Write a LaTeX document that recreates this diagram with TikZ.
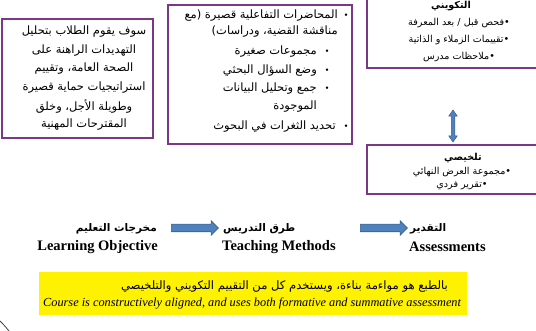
\documentclass[tikz,border=0pt]{standalone}
\usepackage{fontspec}
\setmainfont{Liberation Serif}
\newfontfamily\arabicfont[Script=Arabic]{DejaVu Sans}
\usetikzlibrary{shapes.arrows}
\TeXXeTstate=1
\newcommand{\AR}[1]{{\arabicfont\beginR #1\endR}}
\definecolor{boxpurple}{RGB}{125,55,135}
\definecolor{arrowblue}{RGB}{79,129,189}
\definecolor{arrowdark}{RGB}{56,93,138}
\tikzset{
  boxline/.style={draw=boxpurple, line width=1.3pt},
  artxt/.style={inner sep=0pt, font=\arabicfont\fontsize{11.5}{13}\selectfont},
  smtxt/.style={inner sep=0pt, font=\arabicfont\fontsize{9.6}{11}\selectfont},
  smbold/.style={inner sep=0pt, font=\arabicfont\bfseries\fontsize{9.6}{11}\selectfont},
  arlabel/.style={inner sep=0pt, font=\arabicfont\bfseries\fontsize{10.5}{12}\selectfont},
  enlabel/.style={inner sep=0pt, font=\bfseries\fontsize{14.5}{16}\selectfont},
  bul/.style={inner sep=0pt, font=\fontsize{10}{12}\selectfont},
  harrow/.style={single arrow, fill=arrowblue, draw=arrowdark, line width=0.6pt,
    inner xsep=0pt, inner ysep=3.5pt, minimum height=47pt,
    single arrow head extend=3.5pt, single arrow head indent=0pt},
  varrow/.style={double arrow, fill=arrowblue, draw=arrowdark, line width=0.5pt,
    inner xsep=0pt, inner ysep=1.5pt, minimum height=32pt,
    double arrow head extend=2.5pt, double arrow tip angle=70, rotate=90}
}
\begin{document}
\begin{tikzpicture}[x=1pt,y=-1pt]
\useasboundingbox (0,0) rectangle (536,331);
\clip (0,0) rectangle (536,331);

% left box: learning objective
\draw[boxline] (2,19) rectangle (153,138);
\node[artxt] (l1) at (84,32)    {\AR{سوف يقوم الطلاب بتحليل}};
\node[artxt] (l2) at (84,50.5)  {\AR{التهديدات الراهنة على}};
\node[artxt] (l3) at (84,69)    {\AR{الصحة العامة، وتقييم}};
\node[artxt] (l4) at (84,87.5)  {\AR{استراتيجيات حماية قصيرة}};
\node[artxt] (l5) at (84,106)   {\AR{وطويلة الأجل، وخلق}};
\node[artxt] (l6) at (84,124.5) {\AR{المقترحات المهنية}};

% middle box: teaching methods
\draw[boxline] (168,5) rectangle (352,144);
\node[bul] (b1) at (346,16) {•};
\node[artxt, anchor=east] (m1) at (338,16)  {\AR{المحاضرات التفاعلية قصيرة (مع}};
\node[artxt, anchor=east] (m2) at (338,32)  {\AR{مناقشة القضية، ودراسات)}};
\node[bul] (b3) at (327,52) {•};
\node[artxt, anchor=east] (m3) at (317,52)  {\AR{مجموعات صغيرة}};
\node[bul] (b4) at (327,71) {•};
\node[artxt, anchor=east] (m4) at (317,71)  {\AR{وضع السؤال البحثي}};
\node[bul] (b5) at (327,89) {•};
\node[artxt, anchor=east] (m5) at (317,89)  {\AR{جمع وتحليل البيانات}};
\node[artxt, anchor=east] (m6) at (317,107) {\AR{الموجودة}};
\node[bul] (b7) at (346,127) {•};
\node[artxt, anchor=east] (m7) at (336,127) {\AR{تحديد الثغرات في البحوث}};

% top right box: formative
\draw[boxline] (367,-10) rectangle (545,68);
\node[smbold] (f0) at (451,6)  {\AR{التكويني}};
\node[smtxt]  (f1) at (459,23) {\AR{•فحص قبل / بعد المعرفة}};
\node[smtxt]  (f2) at (459,40) {\AR{•تقييمات الزملاء و الذاتية}};
\node[smtxt]  (f3) at (459,57) {\AR{•ملاحظات مدرس}};

% double arrow
\node[varrow] (va) at (453,126) {};

% bottom right box: summative
\draw[boxline] (367,145) rectangle (545,194);
\node[smbold] (s0) at (463,158) {\AR{تلخيصي}};
\node[smtxt]  (s1) at (462,172) {\AR{•مجموعة العرض النهائي}};
\node[smtxt]  (s2) at (462,186) {\AR{•تقرير فردي}};

% bottom labels
\node[arlabel, anchor=east] (lo-ar) at (157,229) {\AR{مخرجات التعليم}};
\node[enlabel, anchor=east] (lo-en) at (158,247) {Learning Objective};
\node[arlabel, anchor=west] (tm-ar) at (223,229) {\AR{طرق التدريس}};
\node[enlabel, anchor=west] (tm-en) at (222,247) {Teaching Methods};
\node[arlabel, anchor=west] (as-ar) at (410,229) {\AR{التقدير}};
\node[enlabel, anchor=west] (as-en) at (409,247) {Assessments};

\node[harrow] (a1) at (193,228) {};
\node[harrow] (a2) at (382,228) {};

% yellow note
\fill[yellow] (39,272) rectangle (467,315);
\node[inner sep=0pt, anchor=east, font=\arabicfont\fontsize{11.6}{13}\selectfont] (y1) at (448,287)
  {\AR{بالطبع هو مواءمة بناءة، ويستخدم كل من التقييم التكويني والتلخيصي}};
\node[inner sep=0pt, anchor=west, font=\itshape\fontsize{12.3}{14}\selectfont] (y2) at (43,303)
  {Course is constructively aligned, and uses both formative and summative assessment};

% corner arc
\draw[black!75, line width=0.8pt] (0,321) .. controls (4,325) .. (9,331);
\end{tikzpicture}
\end{document}
